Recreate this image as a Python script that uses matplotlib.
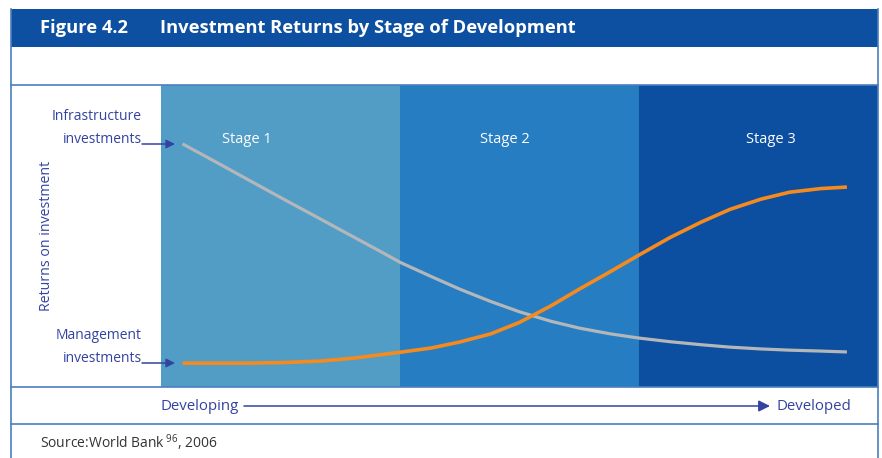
import matplotlib.pyplot as plt
from matplotlib.patches import Rectangle

# eixo x: estágio de desenvolvimento (0 a 3), eixo y: retorno relativo (0 a 100)
STAGES = ["Stage 1", "Stage 2", "Stage 3"]
STAGE_COLORS = ["#519dc6", "#277dc2", "#0c4ea0"]

development = [0.09, 0.23, 0.37, 0.52, 0.67, 0.81, 0.92, 1.00, 1.13, 1.25, 1.38, 1.50,
               1.63, 1.75, 1.88, 2.00, 2.13, 2.26, 2.38, 2.51, 2.63, 2.76, 2.87]
infrastructure = [80.5, 74.5, 68.4, 61.9, 55.5, 49.5, 44.8, 41.3, 36.6, 32.4, 28.3, 24.9,
                  21.8, 19.5, 17.6, 16.2, 15.0, 14.0, 13.2, 12.6, 12.2, 11.9, 11.6]
management = [7.9, 7.9, 7.9, 8.1, 8.6, 9.6, 10.7, 11.5, 12.9, 14.9, 17.6, 21.4,
              26.8, 32.4, 38.2, 43.7, 49.5, 54.6, 58.8, 62.2, 64.5, 65.7, 66.2]

NAVY = "#3343a0"
FRAME = "#4a7fc0"
TITLE_BG = "#0d4fa0"

plt.rcParams['font.family'] = ['Open Sans', 'DejaVu Sans']
plt.rcParams['mathtext.fontset'] = 'custom'
plt.rcParams['mathtext.rm'] = 'Open Sans'

fig = plt.figure(figsize=(8.82, 4.58), dpi=100)

# área do gráfico
ax = fig.add_axes([161 / 882, 1 - 387 / 458, 717 / 882, 302 / 458], zorder=1)
ax.set_xlim(0, 3)
ax.set_ylim(0, 100)
for i, (name, c) in enumerate(zip(STAGES, STAGE_COLORS)):
    ax.axvspan(i, i + 1, color=c, lw=0)
stage_label_x = [0.36, 1.44, 2.55]
for name, x in zip(STAGES, stage_label_x):
    ax.text(x, 82, name, color="white", fontsize=10.5, ha="center", va="center")

ax.plot(development, infrastructure, color="#b3b7ba", lw=2.3, solid_capstyle="butt",
        solid_joinstyle="round")
ax.plot(development, management, color="#f58a1f", lw=2.6, solid_capstyle="butt",
        solid_joinstyle="round")
ax.axis('off')

# camada de cima em coordenadas de pixel (moldura, títulos, setas)
bg = fig.add_axes([0, 0, 1, 1], zorder=2)
bg.set_xlim(0, 882)
bg.set_ylim(458, 0)
bg.axis('off')

bg.add_patch(Rectangle((11, 9), 867, 38, color=TITLE_BG, lw=0))
bg.text(40, 28, "Figure 4.2", color="white", fontsize=13.2, fontweight="bold", va="center")
bg.text(160, 28, "Investment Returns by Stage of Development", color="white",
        fontsize=13.2, fontweight="bold", va="center")

for y in [84.5, 387, 424]:
    bg.plot([11, 878], [y, y], color=FRAME, lw=1.2)
bg.plot([11, 11], [9, 458], color=FRAME, lw=1.2)
bg.plot([878, 878], [9, 458], color=FRAME, lw=1.2)

# rótulos da esquerda
bg.text(142, 128, "Infrastructure\ninvestments", color=NAVY, fontsize=10,
        ha="right", va="center", linespacing=1.7)
bg.text(142, 347, "Management\ninvestments", color=NAVY, fontsize=10,
        ha="right", va="center", linespacing=1.7)
for y in [144, 363]:
    bg.annotate("", xy=(175, y), xytext=(142, y),
                arrowprops=dict(arrowstyle="-|>", color=NAVY, lw=1.1,
                                mutation_scale=13, shrinkA=0, shrinkB=0))
bg.text(47, 236, "Returns on investment", color=NAVY, fontsize=10.2,
        rotation=90, ha="center", va="center")

# linha Developing -> Developed
bg.text(160, 406, "Developing", color=NAVY, fontsize=10.8, va="center")
bg.annotate("", xy=(770, 406), xytext=(244, 406),
            arrowprops=dict(arrowstyle="-|>", color=NAVY, lw=1.1,
                            mutation_scale=17, shrinkA=0, shrinkB=0))
bg.text(776, 406, "Developed", color=NAVY, fontsize=10.8, va="center")

bg.text(40, 443, r"Source:World Bank$\,^{96}$, 2006", color="#333333", fontsize=10,
        va="center")

fig.savefig("out.png", dpi=100)
